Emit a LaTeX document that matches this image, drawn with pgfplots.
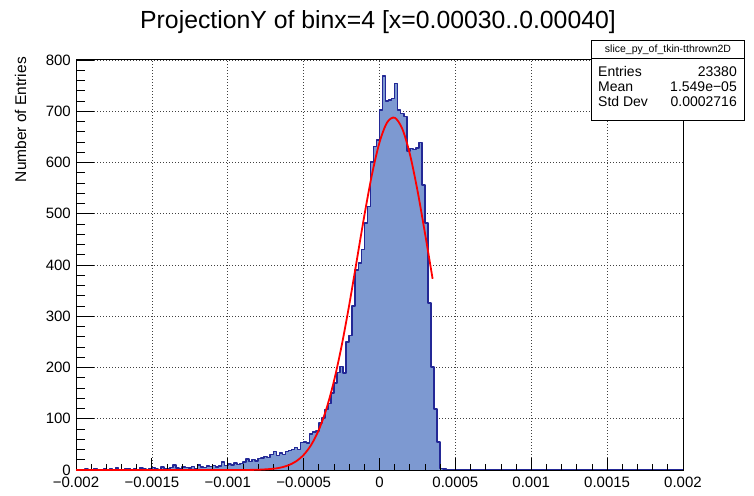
\documentclass[border=0pt]{standalone}
\usepackage{fontspec}
\setmainfont{Liberation Sans}
\usepackage{pgfplots}
\usepackage{pgfplotstable}
\pgfplotsset{compat=1.18}

\definecolor{histfill}{RGB}{125,153,209}
\definecolor{histline}{RGB}{35,40,150}

% bin low edge, entries (bin width 2e-5)
\pgfplotstableread[row sep=\\]{
x y\\
-0.00200 0\\ -0.00198 1\\ -0.00196 0\\ -0.00194 2\\ -0.00192 0\\ -0.00190 1\\ -0.00188 3\\ -0.00186 0\\ -0.00184 1\\ -0.00182 2\\
-0.00180 0\\ -0.00178 2\\ -0.00176 1\\ -0.00174 4\\ -0.00172 1\\ -0.00170 0\\ -0.00168 2\\ -0.00166 3\\ -0.00164 1\\ -0.00162 2\\
-0.00160 1\\ -0.00158 4\\ -0.00156 2\\ -0.00154 1\\ -0.00152 3\\ -0.00150 5\\ -0.00148 2\\ -0.00146 1\\ -0.00144 6\\ -0.00142 3\\
-0.00140 2\\ -0.00138 5\\ -0.00136 10\\ -0.00134 4\\ -0.00132 3\\ -0.00130 6\\ -0.00128 5\\ -0.00126 4\\ -0.00124 7\\ -0.00122 3\\
-0.00120 10\\ -0.00118 6\\ -0.00116 5\\ -0.00114 8\\ -0.00112 7\\ -0.00110 9\\ -0.00108 6\\ -0.00106 8\\ -0.00104 16\\ -0.00102 9\\
-0.00100 12\\ -0.00098 10\\ -0.00096 14\\ -0.00094 11\\ -0.00092 13\\ -0.00090 16\\ -0.00088 21\\ -0.00086 17\\ -0.00084 20\\ -0.00082 18\\
-0.00080 22\\ -0.00078 23\\ -0.00076 26\\ -0.00074 24\\ -0.00072 30\\ -0.00070 36\\ -0.00068 28\\ -0.00066 33\\ -0.00064 30\\ -0.00062 36\\
-0.00060 38\\ -0.00058 40\\ -0.00056 44\\ -0.00054 40\\ -0.00052 54\\ -0.00050 55\\ -0.00048 53\\ -0.00046 70\\ -0.00044 74\\ -0.00042 76\\
-0.00040 92\\ -0.00038 101\\ -0.00036 118\\ -0.00034 130\\ -0.00032 150\\ -0.00030 170\\ -0.00028 190\\ -0.00026 202\\ -0.00024 189\\ -0.00022 250\\
-0.00020 262\\ -0.00018 320\\ -0.00016 390\\ -0.00014 404\\ -0.00012 430\\ -0.00010 482\\ -0.00008 514\\ -0.00006 601\\ -0.00004 631\\ -0.00002 644\\
0.00000 702\\ 0.00002 769\\ 0.00004 720\\ 0.00006 722\\ 0.00008 725\\ 0.00010 754\\ 0.00012 702\\ 0.00014 696\\ 0.00016 690\\ 0.00018 622\\
0.00020 627\\ 0.00022 625\\ 0.00024 628\\ 0.00026 639\\ 0.00028 556\\ 0.00030 482\\ 0.00032 326\\ 0.00034 201\\ 0.00036 119\\ 0.00038 55\\
0.00040 3\\ 0.00042 2\\ 0.00044 0\\ 0.00046 0\\ 0.00048 0\\ 0.00050 0\\ 0.00052 0\\ 0.00054 0\\ 0.00056 0\\ 0.00058 0\\
0.00060 0\\ 0.00200 0\\
}\histdata

\begin{document}
\begin{tikzpicture}[x=1pt,y=1pt]
\path[use as bounding box] (0,0) rectangle (754,495);

% layer 1: grid and histogram
\begin{axis}[
    at={(76pt,25pt)}, anchor=south west,
    width=607pt, height=410pt, scale only axis,
    xmin=-0.002, xmax=0.002, ymin=0, ymax=800,
    scaled ticks=false,
    xtick={-0.002,-0.0015,-0.001,-0.0005,0,0.0005,0.001,0.0015,0.002},
    ytick={0,100,200,300,400,500,600,700,800},
    xticklabels={}, yticklabels={},
    grid=major,
    major grid style={black!75, line width=0.6pt, dash pattern=on 1pt off 2pt},
    tick style={draw=none},
    axis line style={draw=none},
]
\addplot[const plot, fill=histfill, draw=none] table[x=x,y=y]{\histdata} \closedcycle;
\addplot[const plot, draw=histline, line width=1.5pt, line join=round] table[x=x,y=y]{\histdata};
\end{axis}

% layer 2: frame, x ticks, tick labels
\begin{axis}[
    at={(76pt,25pt)}, anchor=south west,
    width=607pt, height=410pt, scale only axis,
    xmin=-0.002, xmax=0.002, ymin=0, ymax=800,
    scaled ticks=false,
    xtick={-0.002,-0.0015,-0.001,-0.0005,0,0.0005,0.001,0.0015,0.002},
    xticklabels={−0.002,−0.0015,−0.001,−0.0005,0,0.0005,0.001,0.0015,0.002},
    minor x tick num=4,
    ytick={0,100,200,300,400,500,600,700,800},
    yticklabels={0,100,200,300,400,500,600,700,800},
    tick pos=left, tick align=inside,
    major tick length=12pt, minor tick length=6pt,
    tick style={black, line width=0.8pt},
    ytick style={draw=none},
    axis line style={black, line width=1pt},
    ticklabel style={font=\fontsize{15}{17}\selectfont, inner sep=0pt},
    xticklabel style={anchor=base, yshift=-17pt},
    yticklabel style={anchor=east, xshift=-5pt},
]
\end{axis}

% layer 3: y ticks and fit function
\begin{axis}[
    at={(76pt,25pt)}, anchor=south west,
    width=607pt, height=410pt, scale only axis,
    xmin=-0.002, xmax=0.002, ymin=0, ymax=800,
    scaled ticks=false,
    xtick=\empty,
    ytick={0,100,200,300,400,500,600,700,800},
    yticklabels={},
    minor y tick num=4,
    tick pos=left, tick align=inside,
    major tick length=18pt, minor tick length=9pt,
    tick style={black, line width=0.8pt},
    axis line style={draw=none},
    clip=false,
]
\addplot[red, line width=1.8pt, smooth] coordinates {
(-0.002,0) (-0.0015,0) (-0.001,0) (-0.0009,0.1) (-0.0008,0.5) (-0.0007,2.4)
(-0.00065,4.8) (-0.0006,9.2) (-0.00055,16.9) (-0.0005,29.4) (-0.00045,49.1)
(-0.0004,78.2) (-0.00035,119.2) (-0.0003,173.6) (-0.00025,241.6) (-0.0002,321.3)
(-0.00015,408.4) (-0.0001,496.2) (-0.00005,576.1) (0,639.3) (0.00005,678.1)
(0.0001,687.4) (0.00015,665.9) (0.0002,616.6) (0.00025,545.7) (0.0003,461.5)
(0.00035,373.1)
};
\end{axis}

% title and axis title
\node[anchor=base, font=\fontsize{24.8}{28}\selectfont] at (378,466)
  {ProjectionY of binx=4 [x=0.00030..0.00040]};
\node[rotate=90, anchor=base east, inner sep=0pt, font=\fontsize{15.5}{17}\selectfont]
  at (26,438) {Number of Entries};

% statistics box
\draw[black, line width=0.8pt, fill=white] (591.5,454.5) rectangle (744,375);
\draw[black, line width=0.8pt] (591.5,436.7) -- (744,436.7);
\node[font=\fontsize{10.5}{12}\selectfont, inner sep=0pt] at (668,445.7)
  {slice\_py\_of\_tkin-tthrown2D};
\begin{scope}[every node/.style={inner sep=0pt, font=\fontsize{14}{16}\selectfont}]
\node[anchor=base west] at (598,418.3) {Entries};
\node[anchor=base east] at (737,418.3) {23380};
\node[anchor=base west] at (598,403.3) {Mean};
\node[anchor=base east] at (737,403.3) {1.549e−05};
\node[anchor=base west] at (598,388.3) {Std Dev};
\node[anchor=base east] at (737,388.3) {0.0002716};
\end{scope}
\end{tikzpicture}
\end{document}
